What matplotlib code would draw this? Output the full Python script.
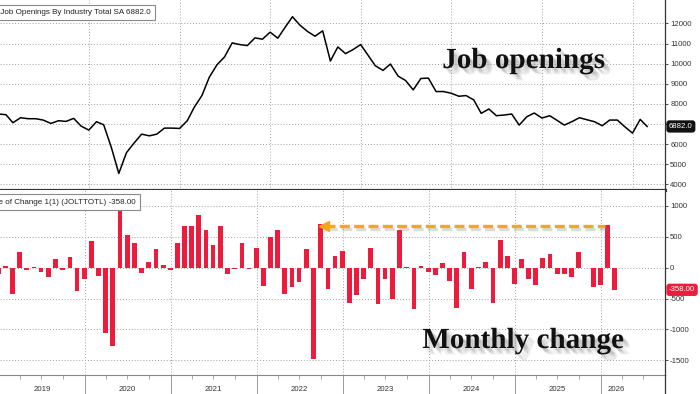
import matplotlib
matplotlib.use("Agg")
import matplotlib.pyplot as plt
import matplotlib.dates as mdates
import matplotlib.patheffects as pe
import matplotlib.transforms as mtransforms
from matplotlib.lines import Line2D
import pandas as pd

# month-end observations, Dec 2018 .. Feb 2026
months = pd.date_range("2018-12-31", "2026-02-28", freq="ME")

# JOLTS total job openings (thousands)
openings = [7500, 7467, 7067, 7317, 7267, 7267, 7200, 7033, 7167, 7133, 7283, 6900,
            6700, 7117, 6967, 5833, 4550, 5583, 6050, 6500, 6417, 6500, 6800, 6800,
            6783, 7167, 7833, 8417, 9333, 9950, 10333, 11033, 10950, 10900, 11283, 11217,
            11567, 11267, 11783, 12333, 11917, 11600, 11367, 11633, 10133, 10833, 10500, 10700,
            10950, 10400, 9900, 9667, 9983, 9383, 9167, 8700, 9267, 9283, 8617, 8617,
            8533, 8383, 8417, 8200, 7533, 7750, 7417, 7450, 7500, 6950, 7367, 7550,
            7300, 7417, 7200, 6950, 7117, 7317, 7217, 7117, 6917, 7200, 7200, 6867,
            6550, 7233, 6882]

# monthly net change (thousands)
changes = [-97, 27, -422, 260, -32, 15, -65, -146, 146, -38, 179, -384,
           -184, 427, -141, -1055, -1271, 960, 525, 406, -87, 92, 298, 38,
           -32, 400, 671, 682, 849, 617, 373, 671, -97, -27, 406, -22,
           325, -303, 498, 606, -422, -314, -238, 298, -1471, 714, -341, 195,
           270, -573, -449, -189, 319, -584, -179, -509, 606, 10, -665, 30,
           -65, -124, 70, -216, -655, 254, -352, 10, 92, -568, 449, 195,
           -260, 146, -184, -276, 162, 222, -97, -108, -157, 260, 0, -314,
           -281, 687, -358]

years = list(range(2019, 2027))
top_ticks = list(range(4000, 12001, 1000))
bottom_ticks = list(range(-1500, 1001, 500))
last_level = 6882.0
last_change = -358.00
arrow_level = 677

RED = "#ee1c3c"
ORANGE = "#f2a81d"
GRID = "#a0a0a0"
TICKFAMILY = "Liberation Sans"

x = mdates.date2num(months.to_pydatetime())
xmin = mdates.date2num(pd.Timestamp("2019-01-07").to_pydatetime())
xmax = mdates.date2num(pd.Timestamp("2026-05-11").to_pydatetime())
year_starts = [mdates.date2num(pd.Timestamp(f"{y}-01-01").to_pydatetime()) for y in years]
year_starts.append(mdates.date2num(pd.Timestamp(f"{years[-1] + 1}-01-01").to_pydatetime()))
quarters = [mdates.date2num(pd.Timestamp(f"{y}-{m:02d}-01").to_pydatetime())
            for y in years for m in (4, 7, 10)]

fig = plt.figure(figsize=(7, 3.94), dpi=100)
W, H = 700.0, 394.0
ax1 = fig.add_axes([0, 1 - 189.5 / H, 665 / W, 189.5 / H])
ax2 = fig.add_axes([0, 1 - 375 / H, 665 / W, (375 - 190) / H])

for ax in (ax1, ax2):
    ax.set_xlim(xmin, xmax)
    ax.yaxis.tick_right()
    ax.spines["left"].set_visible(False)
    ax.spines["top"].set_visible(False)
    ax.spines["right"].set_color("#333333")
    ax.spines["right"].set_linewidth(0.9)
    ax.tick_params(axis="y", length=2.5, width=0.6, pad=1.2, colors="#333333", labelsize=5.6)
    ax.grid(axis="y", linestyle=(0, (1, 2)), color=GRID, lw=0.7)
    for ys in year_starts[1:-1]:
        ax.axvline(ys, linestyle=(0, (1, 2)), color=GRID, lw=0.7, zorder=0)

# --- top panel: level ---
ax1.plot(x, openings, color="black", lw=1.1, zorder=3)
ax1.set_ylim(3750, 13165)
ax1.set_yticks(top_ticks)
# the 7000 label sits under the last-value tag
ax1.set_yticklabels(["" if t == 7000 else str(t) for t in top_ticks], fontfamily=TICKFAMILY)
ax1.set_xticks([])
ax1.spines["bottom"].set_color("#333333")
ax1.spines["bottom"].set_linewidth(2.3)

# --- bottom panel: monthly change ---
ax2.bar(x, changes, width=20, color=RED, zorder=3)
ax2.set_ylim(-1738, 1259)
ax2.set_yticks(bottom_ticks)
ax2.set_yticklabels([str(t) for t in bottom_ticks], fontfamily=TICKFAMILY)
ax2.spines["bottom"].set_color("#888888")
ax2.spines["bottom"].set_linewidth(0.8)
ax2.set_xticks(year_starts[1:-1])
ax2.set_xticklabels([])
ax2.set_xticks(quarters, minor=True)
ax2.tick_params(axis="x", which="major", length=16, width=0.7, color="#9a9a9a")
ax2.tick_params(axis="x", which="minor", length=3, width=0.6, color="#9a9a9a")

# year labels, centred in the visible part of each year
xtr = ax2.get_xaxis_transform()
for i, y in enumerate(years):
    lo = max(xmin, year_starts[i])
    hi = min(xmax, year_starts[i + 1])
    ax2.text((lo + hi) / 2, -0.08, str(y), transform=xtr, ha="center", va="center",
             fontsize=5.6, family=TICKFAMILY, color="#333333", clip_on=False)

# right spine runs down through the label strip
fig.add_artist(Line2D([665 / W, 665 / W], [0, 1 - 375 / H], color="#333333", lw=0.9))

# orange dashed arrow from the latest jump back to Sep 2022
tip = x[45] + 11
tail = x[85] - 11
ax2.plot([tip + 6, tail], [arrow_level, arrow_level], color=ORANGE, lw=2.4,
         linestyle=(0, (3, 1.3)), zorder=4, solid_capstyle="butt",
         path_effects=[pe.SimpleLineShadow(offset=(1.5, -2), shadow_color="#888888", alpha=0.3),
                       pe.Normal()])
ax2.plot([tip + 5], [arrow_level], marker="<", ms=7, color=ORANGE, zorder=5, mec=ORANGE)

# value tags on the right axis
ytr1 = mtransforms.blended_transform_factory(ax1.transAxes, ax1.transData)
ax1.text(1.006, last_level, f"{last_level:.1f}", transform=ytr1, ha="left", va="center",
         fontsize=5.6, family=TICKFAMILY, color="white", clip_on=False, zorder=10,
         bbox=dict(boxstyle="round,pad=0.25,rounding_size=0.3", fc="#111111", ec="#111111"))
ytr2 = mtransforms.blended_transform_factory(ax2.transAxes, ax2.transData)
ax2.text(1.006, last_change, f"{last_change:.2f}", transform=ytr2, ha="left", va="center",
         fontsize=5.6, family=TICKFAMILY, color="white", clip_on=False, zorder=10,
         bbox=dict(boxstyle="round,pad=0.25,rounding_size=0.3", fc=RED, ec=RED))

# legend boxes (cut at the left edge as in the terminal screenshot)
fig.text(150.5 / W, 1 - 12.5 / H, f"US Job Openings By Industry Total SA {last_level:.1f}",
         ha="right", va="center", fontsize=5.8, family=TICKFAMILY, color="#222222",
         bbox=dict(boxstyle="square,pad=0.55", fc="white", ec="#8a8a8a", lw=0.8))
fig.text(135.5 / W, 1 - 202 / H, f"Rate of Change 1(1) (JOLTTOTL) {last_change:.2f}",
         ha="right", va="center", fontsize=5.8, family=TICKFAMILY, color="#222222",
         bbox=dict(boxstyle="square,pad=0.55", fc="white", ec="#8a8a8a", lw=0.8))

# big captions with a soft drop shadow
shadow = [pe.SimplePatchShadow(offset=(d, -d), shadow_rgbFace="#777777", alpha=0.14)
          for d in (1.5, 2.5, 3.5, 4.5)] + [pe.Normal()]
fig.text(523.5 / W, 1 - 68 / H, "Job openings", ha="center", va="baseline",
         fontsize=21, family="Liberation Serif", fontweight="bold", color="#111111",
         path_effects=shadow)
fig.text(523 / W, 1 - 348 / H, "Monthly change", ha="center", va="baseline",
         fontsize=21, family="Liberation Serif", fontweight="bold", color="#111111",
         path_effects=shadow)

fig.savefig("out.png", dpi=100)
